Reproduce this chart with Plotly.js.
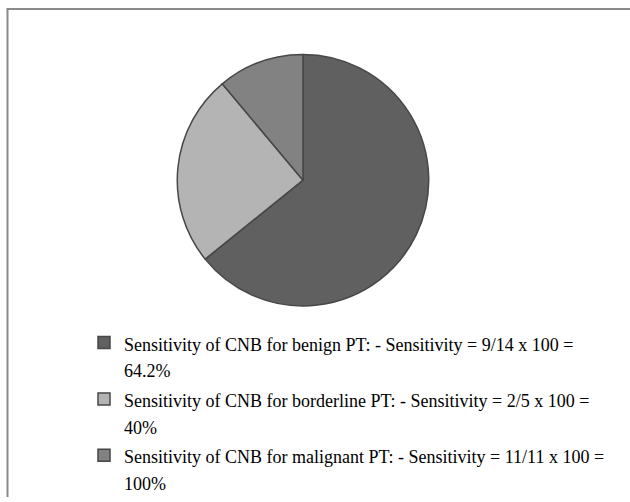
<!DOCTYPE html>
<html>
<head>
<meta charset="utf-8">
<script src="https://cdn.plot.ly/plotly-3.0.1.min.js"></script>
<style>html,body{margin:0;padding:0;background:#fff;}#chart{width:630px;height:502px;}</style>
</head>
<body>
<div id="chart"></div>
<script>
// Legend text (two lines per entry) and slice shares
const categories = [
  "Sensitivity of CNB for benign PT: - Sensitivity = 9/14 x 100 =",
  "Sensitivity of CNB for borderline PT: - Sensitivity = 2/5 x 100 =",
  "Sensitivity of CNB for malignant PT: - Sensitivity = 11/11 x 100 ="
];
const percentLabels = ["64.2%", "40%", "100%"];
const sliceValues = [64.2, 24.7, 11.1];
const sliceColors = ["#606060", "#b4b4b4", "#828282"];

const W = 630, H = 502;
const textSize = 18;
const wrap = s => '<span style="font-size:' + textSize + 'px">' + s + '</span>';
const legendLabels = categories.map((c, i) => wrap(c) + '<br>' + wrap(percentLabels[i]));

const trace = {
  type: "pie",
  labels: legendLabels,
  values: sliceValues,
  sort: false,
  direction: "clockwise",
  rotation: 0,
  textinfo: "none",
  hoverinfo: "label+value",
  marker: {colors: sliceColors, line: {color: "#474747", width: 1.5}},
  domain: {x: [176 / W, 430 / W], y: [1 - 309 / H, 1 - 55 / H]}
};
const layout = {
  width: W, height: H,
  margin: {l: 0, r: 0, t: 0, b: 0},
  paper_bgcolor: "#ffffff",
  showlegend: true,
  legend: {
    x: 84 / W, y: 1 - 326 / H, xanchor: "left", yanchor: "top",
    valign: "top",
    font: {family: "Liberation Serif, Times New Roman, serif", size: 20.5, color: "#000000"},
    bgcolor: "rgba(0,0,0,0)"
  },
  shapes: [
    {type: "line", xref: "paper", yref: "paper", x0: 7.5 / W, x1: 7.5 / W, y0: 0, y1: 1 - 9 / H, line: {color: "#8a8a8a", width: 2}},
    {type: "line", xref: "paper", yref: "paper", x0: 6.5 / W, x1: 1, y0: 1 - 9 / H, y1: 1 - 9 / H, line: {color: "#8a8a8a", width: 2}}
  ]
};
Plotly.newPlot("chart", [trace], layout, {displayModeBar: false, staticPlot: true});
</script>
</body>
</html>
